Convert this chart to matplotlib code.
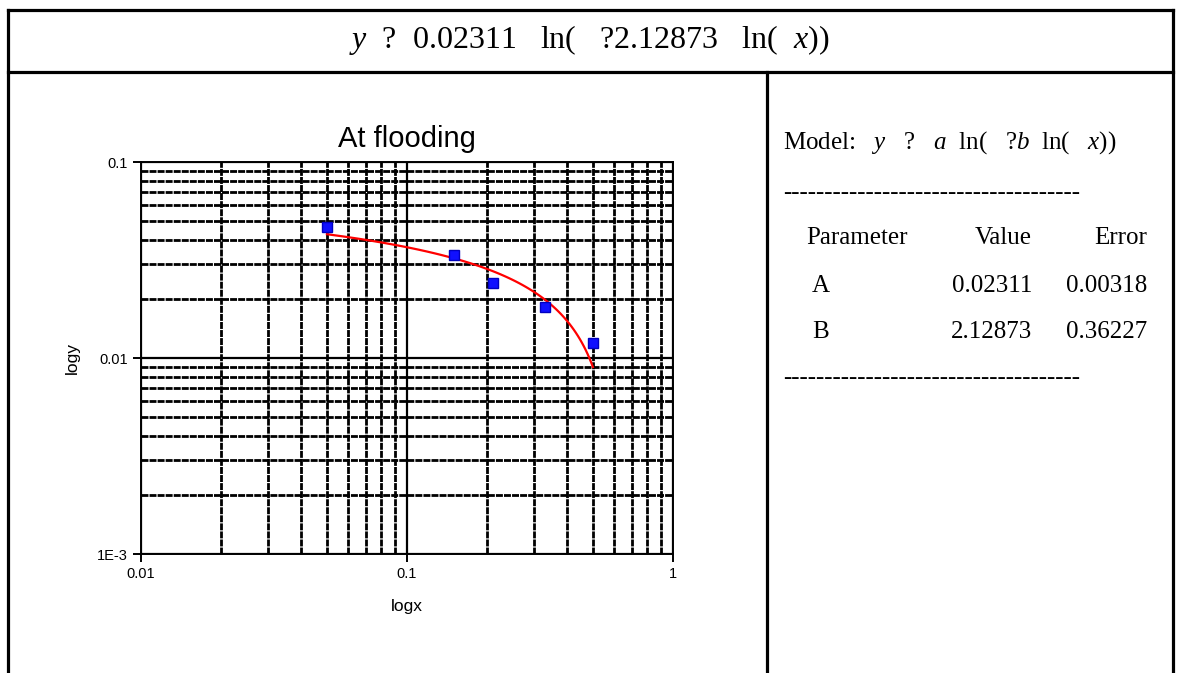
import numpy as np
import matplotlib.pyplot as plt
from matplotlib.lines import Line2D

# measured points (at flooding)
x_data = [0.05, 0.15, 0.21, 0.33, 0.5]
y_data = [0.0468, 0.0337, 0.0242, 0.0182, 0.0119]

# fitted model y = a ln(-b ln(x))
A, B = 0.02311, 2.12873
A_err, B_err = 0.00318, 0.36227

x_ticks = [0.01, 0.1, 1]
x_ticklabels = ['0.01', '0.1', '1']
y_ticks = [0.001, 0.01, 0.1]
y_ticklabels = ['1E-3', '0.01', '0.1']

plt.rcParams['font.family'] = ['Liberation Sans', 'DejaVu Sans']
plt.rcParams['mathtext.fontset'] = 'custom'
plt.rcParams['mathtext.rm'] = 'Liberation Serif'
plt.rcParams['mathtext.it'] = 'Liberation Serif:italic'

W, H = 1181, 673
fig = plt.figure(figsize=(W / 100, H / 100), dpi=100)

def fx(px):
    return px / W

def fy(py):
    return 1 - py / H

# frame of the report page
frame = dict(color='black', linewidth=2.3, solid_capstyle='projecting')
fig.add_artist(Line2D([fx(8), fx(1173)], [fy(10), fy(10)], **frame))
fig.add_artist(Line2D([fx(8), fx(1173)], [fy(72), fy(72)], **frame))
fig.add_artist(Line2D([fx(8), fx(8)], [fy(10), 0], **frame))
fig.add_artist(Line2D([fx(1173), fx(1173)], [fy(10), 0], **frame))
fig.add_artist(Line2D([fx(767), fx(767)], [fy(72), 0], **frame))

serif = 'Liberation Serif'
fig.text(fx(589), fy(40), r'$y$  ?  0.02311   ln(   ?2.12873   ln(  $x$))',
         family=serif, fontsize=23, ha='center', va='center')

# plot
ax = fig.add_axes([fx(141), fy(554), fx(673) - fx(141), fy(162) - fy(554)])
ax.set_xscale('log')
ax.set_yscale('log')
ax.set_xlim(0.01, 1)
ax.set_ylim(0.001, 0.1)

ax.grid(True, which='major', color='black', linewidth=1.6)
ax.grid(True, which='minor', color='black', linewidth=2.0, linestyle=(0, (2.5, 0.4)))

xf = np.linspace(0.05, 0.5, 60)
ax.plot(xf, A * np.log(-B * np.log(xf)), color='red', linewidth=1.6, zorder=3)
ax.plot(x_data, y_data, 's', color='#1010ff', markeredgecolor='#0000c0',
        markersize=6.5, zorder=4)

ax.set_xticks(x_ticks)
ax.set_xticklabels(x_ticklabels)
ax.set_yticks(y_ticks)
ax.set_yticklabels(y_ticklabels)
ax.tick_params(which='major', direction='out', length=6, width=1.4, labelsize=10.5)
ax.tick_params(which='minor', length=0)
for sp in ax.spines.values():
    sp.set_linewidth(1.4)

ax.set_title('At flooding', fontsize=21, pad=11)
ax.set_xlabel('logx', fontsize=12.5, labelpad=13)
ax.set_ylabel('logy', fontsize=12.5, labelpad=12)

# fit report panel
fs = 18
fig.text(fx(783), fy(143), r'Model:   $y$   ?   $a$  ln(   ?$b$  ln(   $x$))',
         family=serif, fontsize=fs, va='center')
dash = '-' * 36
fig.text(fx(783), fy(193), dash, family=serif, fontsize=fs, va='center')
fig.text(fx(806), fy(238), 'Parameter', family=serif, fontsize=fs, va='center')
fig.text(fx(1032), fy(238), 'Value', family=serif, fontsize=fs, va='center', ha='right')
fig.text(fx(1147), fy(238), 'Error', family=serif, fontsize=fs, va='center', ha='right')
rows = [('A', A, A_err), ('B', B, B_err)]
for i, (name, val, err) in enumerate(rows):
    yy = fy(286 + 46 * i)
    fig.text(fx(812), yy, name, family=serif, fontsize=fs, va='center')
    fig.text(fx(1032), yy, f'{val:.5f}', family=serif, fontsize=fs, va='center', ha='right')
    fig.text(fx(1147), yy, f'{err:.5f}', family=serif, fontsize=fs, va='center', ha='right')
fig.text(fx(783), fy(378), dash, family=serif, fontsize=fs, va='center')

fig.savefig('out.png', dpi=100)
